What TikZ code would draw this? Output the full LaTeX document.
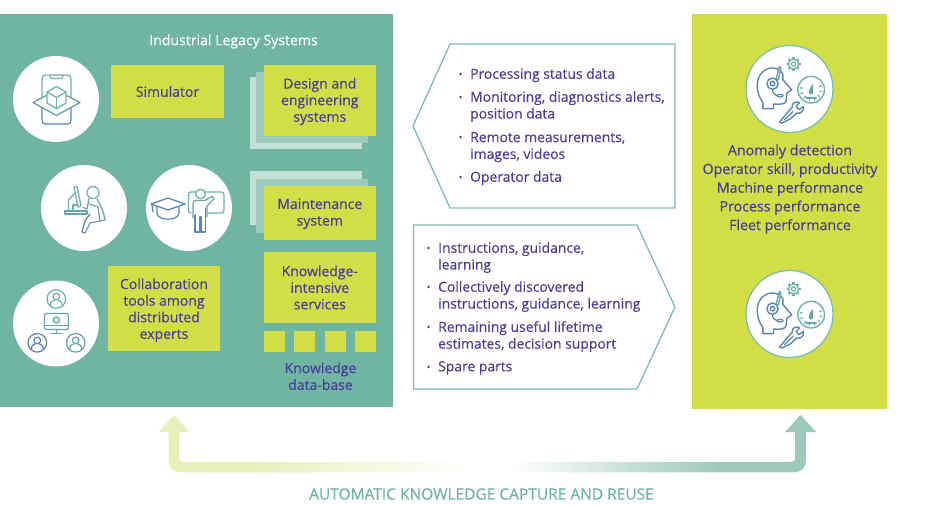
\documentclass[tikz,border=0pt]{standalone}
\usepackage{fontspec}
\setmainfont{Open Sans}
\newfontfamily\medfont{Open Sans}[FakeBold=0.25]
\usetikzlibrary{calc}
\definecolor{tealbg}{HTML}{70B4A2}
\definecolor{limebox}{HTML}{D2DE45}
\definecolor{inktext}{HTML}{483D9B}
\definecolor{layermid}{HTML}{9CCABC}
\definecolor{layerback}{HTML}{C5DFD6}
\definecolor{calloutline}{HTML}{7DBFAD}
\definecolor{icona}{HTML}{6FB3A8}
\definecolor{iconb}{HTML}{6AA3B0}
\definecolor{iconc}{HTML}{5B86B3}
\definecolor{arrowl}{HTML}{E9EFBA}
\definecolor{arrowr}{HTML}{9CC9BA}
\pgfdeclarehorizontalshading{leftfade}{100bp}{color(0bp)=(arrowl); color(39.7bp)=(arrowl); color(75bp)=(white); color(100bp)=(white)}
\pgfdeclarehorizontalshading{rightfade}{100bp}{color(0bp)=(white); color(25bp)=(white); color(59.3bp)=(arrowr); color(100bp)=(arrowr)}
\tikzset{
  px/.style={x=1pt,y=-1pt},
  limerect/.style={fill=limebox,draw=none,inner sep=0pt,align=center,text=inktext,font=\medfont\fontsize{14}{16.6}\selectfont},
  limelabel/.style={draw=none,inner sep=0pt,align=center,text=inktext,font=\medfont\fontsize{14}{16.6}\selectfont},
  layerm/.style={fill=layermid,draw=none},
  layerb/.style={fill=layerback,draw=none},
  iconcircle/.style={circle,fill=white,draw=none,minimum size=86pt,inner sep=0pt},
  bodytext/.style={anchor=north west,inner sep=0pt,align=left,text=inktext,font=\medfont\fontsize{13.9}{16.8}\selectfont},
  bulletmark/.style={circle,fill=inktext,draw=none,minimum size=2.8pt,inner sep=0pt},
  callout/.style={draw=calloutline,line width=1.3pt,fill=white,line join=miter},
  ic/.style={line width=1.25pt,line cap=round,line join=round,draw=#1},
  ic/.default=iconb,
  iconscope/.style={shift={#1},x=.3333pt,y=-.3333pt},
}
\newcommand{\personbadge}[3]{%
  \draw[ic=#3] (#1,#2) circle[radius=9.3];
  \draw[ic=#3] ($(#1,#2)+(0,-2.4)$) circle[radius=3.3];
  \draw[ic=#3] ($(#1,#2)+(-6,6.2)$) .. controls ($(#1,#2)+(-6,2)$) and ($(#1,#2)+(-3,1.6)$) .. ($(#1,#2)+(-2,1.2)$);
  \draw[ic=#3] ($(#1,#2)+(6,6.2)$) .. controls ($(#1,#2)+(6,2)$) and ($(#1,#2)+(3,1.6)$) .. ($(#1,#2)+(2,1.2)$);
}
\newcommand{\headset}[1]{%
  \begin{scope}[iconscope={#1}]
    % head
    \draw[ic=iconc,line width=1.4pt] (-80,59) -- (-80,40) .. controls (-100,15) and (-105,-30) .. (-80,-52) .. controls (-60,-70) and (-30,-65) .. (-20,-45)
       -- (-20,-28) -- (7,3) -- (-8,12) -- (-10,35) .. controls (-12,45) and (-25,47) .. (-48,45) -- (-48,59) -- cycle;
    \draw[ic=iconc,fill=white,line width=1.4pt] (-51,-16) circle[radius=17];
    \draw[ic=iconc,line width=1.4pt] (-51,-16) circle[radius=7];
    \draw[ic=iconb,fill=white,line width=1.4pt] (-40,-30) -- (-30,-68) -- (-26,-62) -- (-33,-28) -- cycle;
    \draw[ic=iconc] (-51,1) .. controls (-51,12) and (-45,18) .. (-38,20);
    \draw[ic=iconc] (-28,20) ellipse[x radius=9,y radius=4];
    % gear
    \draw[ic=icona] (12,-75) circle[radius=6.5];
    \draw[ic=icona] (12,-75) circle[radius=15];
    \foreach \a in {0,45,...,315}
      \draw[ic=icona,line width=2.2pt,line cap=butt] ($(12,-75)+(\a:15)$) -- ($(12,-75)+(\a:21)$);
    % gauge
    \draw[ic=icona,line width=1.4pt] (65,2) circle[radius=40];
    \foreach \a in {-20,10,...,200}
      \draw[ic=icona] ($(65,2)+(\a:27)$) -- ($(65,2)+(\a:33)$);
    \fill[iconb] (57,10) .. controls (60,0) and (64,-10) .. (70,-16) .. controls (71,-6) and (72,6) .. (70,14) .. controls (66,19) and (58,17) .. (57,10) -- cycle;
    \draw[ic=iconb] (50,27) -- (80,27);
    % wrench
    \draw[ic=iconc,line width=1.4pt] (-30,100) -- (-10,75) -- (8,55) .. controls (4,40) and (25,35) .. (30,42) -- (20,52) -- (28,62) -- (42,52) .. controls (44,68) and (32,75) .. (22,72) -- (2,90) -- (-22,102) -- cycle;
    \draw[ic=iconc] (-15,92) -- (10,68);
  \end{scope}
}
\begin{document}
\begin{tikzpicture}[px]
\useasboundingbox (0,0) rectangle (940,506);
\fill[white] (0,0) rectangle (940,506);

% panels
\node[rectangle,fill=tealbg,draw=none,inner sep=0pt,minimum width=393pt,minimum height=393pt,anchor=north west] (legacy) at (0,14) {};
\node[rectangle,fill=limebox,draw=none,inner sep=0pt,minimum width=195pt,minimum height=395pt,anchor=north west] (outcomes) at (692,14) {};
\node[anchor=center,inner sep=0pt,text=white,font=\medfont\fontsize{14.1}{16}\selectfont] (legacytitle) at (233.5,41.5) {Industrial Legacy Systems};

% stacked layers
\fill[layerb] (250,77) rectangle (362,148.5);
\fill[layerm] (256,72) rectangle (368,143);
\fill[layerb] (250,171) rectangle (362,224.5);
\fill[layerm] (256,179) rectangle (368,233);

% lime boxes
\node[limerect,minimum width=113pt,minimum height=53pt] (simulator) at (167.5,91.5) {Simulator};
\node[limerect,minimum width=112.5pt,minimum height=71pt] (design) at (319.8,100.5) {};
\node[limelabel] (designtext) at (319.8,101.5) {Design and\\engineering\\systems};
\node[limerect,minimum width=112.5pt,minimum height=53.5pt] (maint) at (319.8,212.8) {};
\node[limelabel] (mainttext) at (319.8,213.8) {Maintenance\\system};
\node[limerect,minimum width=112.5pt,minimum height=71pt] (kis) at (319.8,287.5) {Knowledge-\\intensive\\services};
\node[limerect,minimum width=112pt,minimum height=85pt] (collab) at (164,308.5) {};
\node[limelabel] (collabtext) at (164,310.3) {Collaboration\\tools among\\distributed\\experts};
\foreach \n/\cx in {a/274,b/304.5,c/335,d/365.5}
  \node[limerect,minimum size=21pt] (db\n) at (\cx,341.5) {};
\node[anchor=center,inner sep=0pt,align=center,text=inktext,font=\medfont\fontsize{14}{16.8}\selectfont] (dblabel) at (320.5,376.2) {Knowledge\\data-base};

% icon circles
\node[iconcircle] (simcircle) at (56,99) {};
\node[iconcircle] (deskcircle) at (84,208) {};
\node[iconcircle] (teachcircle) at (189,208) {};
\node[iconcircle] (collabcircle) at (56,323.5) {};

% simulator icon
\draw[ic=icona] (42,97) -- (42,79) .. controls (42,76) and (43,75) .. (46,75) -- (67,75) .. controls (70,75) and (71,76) .. (71,79) -- (71,97);
\draw[ic=icona] (50,75.5) -- (51,78.5) -- (62,78.5) -- (63,75.5);
\draw[ic=iconc] (42,108) -- (42,120) .. controls (42,123) and (43,124) .. (46,124) -- (67,124) .. controls (70,124) and (71,123) .. (71,120) -- (71,108);
\draw[ic=iconb,line width=1.4pt] (46.5,95.5) -- (33,102.5) -- (56.5,115.5) -- (80,102.5) -- (66.5,95.5);
\draw[ic=icona] (56.5,86.5) -- (66,92) -- (66,103) -- (56.5,108.5) -- (47,103) -- (47,92) -- cycle;
\draw[ic=icona] (47,92) -- (56.5,97.5) -- (66,92);
\draw[ic=icona] (56.5,97.5) -- (56.5,108.5);

% desk icon
\draw[ic=icona] (93,192.5) circle[radius=6];
\draw[ic=iconb] (97,199) .. controls (101,205) and (104,213) .. (105,220) -- (90,223) -- (85,233);
\draw[ic=iconb] (89,198.5) -- (87,209) -- (83,207.5);
\draw[ic=iconb] (89,204) -- (98,207) -- (100,221);
\draw[ic=iconc] (85,233) -- (82,232) -- (85,221) -- (90,214);
\draw[ic=iconb] (65,211) -- (87,211) -- (87,214) -- (65,214) -- cycle;
\draw[ic=icona] (74,187) -- (77,186.5) -- (81,206) -- (78,207) -- cycle;
\draw[ic=icona] (75,193) -- (68.5,200) -- (68.5,211);
\draw[ic=icona] (78,205) -- (73,205) -- (73,211);

% teacher icon
\draw[ic=iconc,line width=1.3pt] (151,204) -- (168,198) -- (185,204) -- (168,210) -- cycle;
\draw[ic=iconc] (157,207) -- (157,214) .. controls (160,221) and (176,221) .. (179,214) -- (179,207);
\draw[ic=iconc] (152,205) -- (153,212);
\draw[ic=icona] (191,213) .. controls (189,213) and (188.5,212) .. (188.5,210) -- (188.5,195) .. controls (188.5,193) and (189,192) .. (191,192) -- (221,192) .. controls (223,192) and (224,193) .. (224,195) -- (224,210) .. controls (224,212) and (223,213) .. (221,213) -- (208,213);
\draw[ic=icona,fill=white] (200.5,194) circle[radius=4.8];
\draw[ic=iconb] (193,218) -- (193,204) .. controls (193,202) and (194,200.5) .. (196,200.5) -- (205,200.5) -- (212,196.5) -- (214,199) -- (207,206) -- (207,217);
\draw[ic=iconc] (195,215) -- (195,232) -- (200,232) -- (200,217) -- (201,217) -- (201,232) -- (205.5,232) -- (205.5,208);

% collaboration icon
\personbadge{56.3}{299}{icona}
\personbadge{37.3}{342.8}{iconc}
\personbadge{75.7}{342.8}{iconb}
\draw[ic=iconb,line width=1.4pt] (46,313.5) -- (67,313.5) .. controls (68,313.5) and (68.5,314) .. (68.5,315) -- (68.5,328) .. controls (68.5,329) and (68,329.5) .. (67,329.5) -- (46,329.5) .. controls (45,329.5) and (44.5,329) .. (44.5,328) -- (44.5,315) .. controls (44.5,314) and (45,313.5) .. (46,313.5) -- cycle;
\draw[ic=iconb] (44.5,325.5) -- (68.5,325.5);
\draw[ic=icona,line width=1.6pt] (56.5,320) circle[radius=3];
\draw[ic=iconb] (56.5,329.5) -- (56.5,333);
\draw[ic=iconb] (51,333.5) -- (62,333.5);

% callouts
\draw[callout] (450,44) -- (675,44) -- (675,208) -- (450,208) -- (413,126) -- cycle;
\draw[callout] (413.5,225) -- (637,225) -- (675,307) -- (637,389) -- (413.5,389) -- cycle;

\foreach \n/\by in {a/74,b/97,c/137,d/177}
  \node[bulletmark] (upb\n) at (460.5,\by) {};
\node[bodytext] (upa) at (470,68) {Processing status data};
\node[bodytext] (upc) at (470,91) {Monitoring, diagnostics alerts,\\position data};
\node[bodytext] (upd) at (470,132) {Remote measurements,\\images, videos};
\node[bodytext] (upe) at (470,171) {Operator data};

\foreach \n/\by in {a/248,b/287,c/327,d/367}
  \node[bulletmark] (lob\n) at (428.5,\by) {};
\node[bodytext] (loa) at (438,242) {Instructions, guidance,\\learning};
\node[bodytext] (loc) at (438,281) {Collectively discovered\\instructions, guidance, learning};
\node[bodytext] (lod) at (438,321) {Remaining useful lifetime\\estimates, decision support};
\node[bodytext] (loe) at (438,361) {Spare parts};

% right panel
\node[iconcircle,draw=calloutline,line width=1.3pt,minimum size=87pt] (headcircletop) at (789.5,89) {};
\node[iconcircle,draw=calloutline,line width=1.3pt,minimum size=87pt] (headcirclebot) at (789.5,314) {};
\headset{(789.5,89)}
\headset{(789.5,314)}
\node[anchor=center,inner sep=0pt,align=center,text=inktext,font=\medfont\fontsize{14.2}{18.7}\selectfont] (outtext) at (790,189) {Anomaly detection\\Operator skill, productivity\\Machine performance\\Process performance\\Fleet performance};

% capture arrow
\shade[shading=leftfade,shading angle=0]
  (174,415) -- (189.5,432) -- (179.3,432) -- (179.3,457) .. controls (179.3,460.5) and (180.5,461.75) .. (184,461.75)
  -- (470,461.75) -- (470,472.25) -- (181,472.25) .. controls (173,472.25) and (168.7,468) .. (168.7,460)
  -- (168.7,432) -- (158.5,432) -- cycle;
\shade[shading=rightfade,shading angle=0]
  (800.5,415) -- (816,432) -- (805.8,432) -- (805.8,460) .. controls (805.8,468) and (801.5,472.25) .. (793.5,472.25)
  -- (510,472.25) -- (510,461.75) -- (790.5,461.75) .. controls (794,461.75) and (795.2,460.5) .. (795.2,457)
  -- (795.2,432) -- (785,432) -- cycle;
\node[anchor=center,inner sep=0pt,text=tealbg,font=\medfont\fontsize{15.5}{18}\selectfont] (caption) at (481.5,494) {AUTOMATIC KNOWLEDGE CAPTURE AND REUSE};
\end{tikzpicture}
\end{document}
